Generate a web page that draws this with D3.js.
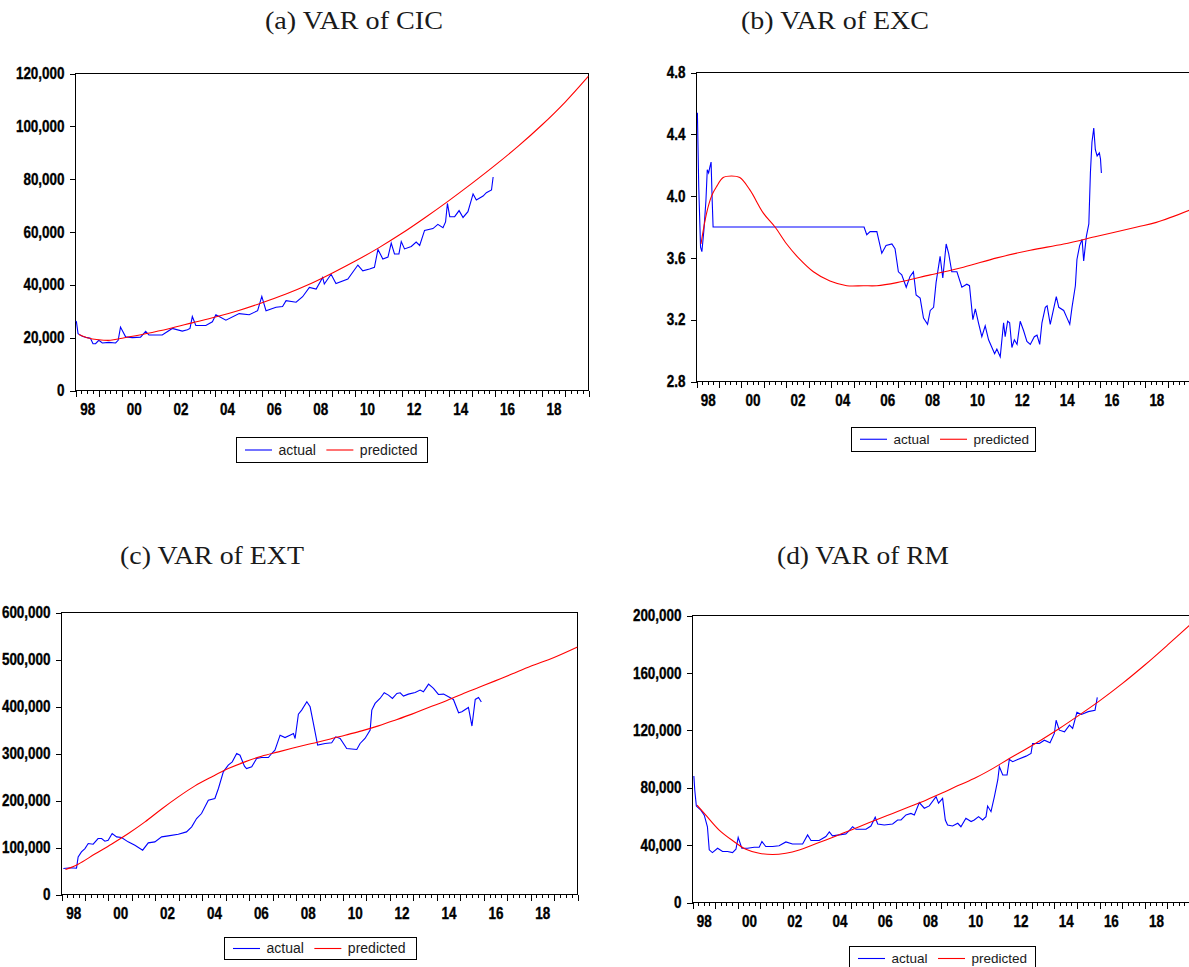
<!DOCTYPE html>
<html>
<head>
<meta charset="utf-8">
<script src="https://cdn.jsdelivr.net/npm/d3@7"></script>
<style>
  body { margin: 0; background: #fff; }
  svg { display: block; }
  .axis text {
    font-family: "Liberation Sans", Arial, sans-serif;
    font-weight: bold;
    font-size: 16px;
    fill: #000;
    stroke: #000;
    stroke-width: 0.35px;
  }
  .axis line { shape-rendering: crispEdges; }
  .title { font-family: "Liberation Serif", "Times New Roman", serif; font-size: 25px; fill: #1a1a1a; }
  .legend text { font-family: "Liberation Sans", Arial, sans-serif; fill: #1a1a1a; }
</style>
</head>
<body>
<svg id="chart" width="1189" height="967"></svg>
<script>
// ---- data (decimal year, value) ----
var titles = ["(a) VAR of CIC", "(b) VAR of EXC", "(c) VAR of EXT", "(d) VAR of RM"];
var legendLabels = ["actual", "predicted"];
var yearLabels = [1998, 2000, 2002, 2004, 2006, 2008, 2010, 2012, 2014, 2016, 2018];

var cicTicks = [0, 20000, 40000, 60000, 80000, 100000, 120000];
var excTicks = [2.8, 3.2, 3.6, 4.0, 4.4, 4.8];
var extTicks = [0, 100000, 200000, 300000, 400000, 500000, 600000];
var rmTicks = [0, 40000, 80000, 120000, 160000, 200000];

var cicActual = [
  [1998.00,26300],[1998.04,26000],[1998.11,21500],[1998.29,20500],[1998.50,20000],[1998.64,19800],
  [1998.75,17700],[1998.86,17700],[1999.00,19000],[1999.15,18000],[1999.43,18200],[1999.72,18000],
  [1999.83,19000],[1999.93,24000],[2000.15,20300],[2000.44,20000],[2000.79,20200],[2001.01,22400],
  [2001.15,21000],[2001.72,21000],[2002.15,23500],[2002.58,22500],[2002.80,23000],[2002.91,23500],
  [2003.01,28000],[2003.16,24600],[2003.59,24600],[2003.87,26000],[2004.02,28700],[2004.45,26600],
  [2005.02,29100],[2005.45,28700],[2005.81,30200],[2005.99,35600],[2006.17,30200],[2006.60,31500],
  [2006.88,31800],[2007.03,34000],[2007.46,33400],[2007.74,35500],[2008.03,39000],[2008.32,38400],
  [2008.60,42800],[2008.67,40300],[2008.96,44000],[2009.17,40500],[2009.68,42200],[2010.11,47500],
  [2010.32,45300],[2010.61,46000],[2010.82,46600],[2010.97,53400],[2011.18,49800],[2011.40,50500],
  [2011.54,55800],[2011.68,51700],[2011.87,51700],[2011.97,56400],[2012.11,53600],[2012.40,54500],
  [2012.61,56200],[2012.76,54900],[2012.97,60600],[2013.33,61300],[2013.54,62900],[2013.76,61600],
  [2013.87,63800],[2013.95,70800],[2014.05,65800],[2014.26,65800],[2014.45,68100],[2014.62,65500],
  [2014.83,67700],[2015.05,74400],[2015.19,72100],[2015.48,73600],[2015.62,74900],[2015.84,75900],
  [2015.91,80800]
];
var cicPredicted = [
  [1998.15,21200],[1998.50,20000],[1999.00,19200],[1999.50,19000],[2000.00,19800],[2001.00,21500],
  [2002.00,23400],[2003.00,25600],[2004.00,27800],[2005.00,30300],[2006.00,33200],[2007.00,36400],
  [2008.00,40100],[2009.00,44400],[2010.00,49000],[2011.00,54000],[2012.00,59500],[2013.00,65500],
  [2014.00,71800],[2015.00,78400],[2016.00,85300],[2017.00,92600],[2018.00,100500],[2019.00,109200],
  [2020.00,119000]
];

var excActual = [
  [1998.04,4.54],[1998.10,4.06],[1998.18,3.67],[1998.24,3.64],[1998.33,3.78],[1998.42,3.97],
  [1998.48,4.17],[1998.54,4.15],[1998.60,4.19],[1998.65,4.22],[1998.70,3.97],[1998.74,3.80],
  [2005.47,3.80],[2005.59,3.75],[2005.74,3.77],[2006.04,3.77],[2006.26,3.63],[2006.45,3.68],
  [2006.71,3.69],[2006.85,3.66],[2007.00,3.51],[2007.15,3.49],[2007.35,3.41],[2007.52,3.48],
  [2007.67,3.51],[2007.79,3.36],[2007.97,3.34],[2008.12,3.21],[2008.30,3.17],[2008.42,3.26],
  [2008.57,3.28],[2008.68,3.44],[2008.86,3.61],[2008.98,3.47],[2009.13,3.69],[2009.24,3.63],
  [2009.38,3.51],[2009.61,3.51],[2009.83,3.41],[2010.05,3.43],[2010.17,3.42],[2010.32,3.20],
  [2010.43,3.27],[2010.57,3.18],[2010.72,3.09],[2010.87,3.16],[2011.02,3.07],[2011.17,3.02],
  [2011.29,2.98],[2011.39,3.01],[2011.54,2.96],[2011.69,3.18],[2011.76,3.09],[2011.87,3.19],
  [2011.96,3.18],[2012.06,3.02],[2012.17,3.07],[2012.29,3.04],[2012.43,3.19],[2012.58,3.13],
  [2012.73,3.06],[2012.88,3.04],[2013.06,3.09],[2013.18,3.10],[2013.30,3.04],[2013.40,3.18],
  [2013.55,3.28],[2013.63,3.29],[2013.77,3.17],[2013.92,3.27],[2014.04,3.35],[2014.15,3.28],
  [2014.37,3.26],[2014.52,3.21],[2014.64,3.17],[2014.74,3.28],[2014.89,3.42],[2014.96,3.59],
  [2015.08,3.68],[2015.19,3.72],[2015.26,3.58],[2015.38,3.74],[2015.49,3.82],[2015.56,4.15],
  [2015.63,4.35],[2015.71,4.44],[2015.78,4.30],[2015.86,4.26],[2015.96,4.28],[2016.01,4.24],
  [2016.05,4.15]
];
var excPredicted = [
  [1998.20,3.69],[1998.45,3.89],[1998.67,4.00],[1998.89,4.06],[1999.19,4.12],[1999.56,4.13],
  [1999.93,4.12],[2000.38,4.04],[2000.98,3.89],[2001.50,3.80],[2002.02,3.69],[2002.61,3.59],
  [2003.21,3.51],[2003.95,3.45],[2004.70,3.42],[2005.44,3.42],[2006.04,3.42],[2006.93,3.44],
  [2008.42,3.49],[2009.90,3.54],[2011.39,3.60],[2012.88,3.65],[2014.37,3.69],[2015.86,3.74],
  [2017.64,3.80],[2018.50,3.83],[2020.00,3.91]
];

var extActual = [
  [1998.08,55300],[1998.40,57000],[1998.64,56000],[1998.71,80000],[1998.85,90700],[1999.00,97700],
  [1999.14,108400],[1999.35,107000],[1999.56,119000],[1999.71,119000],[1999.85,113400],[1999.99,115500],
  [2000.16,129700],[2000.35,122600],[2000.56,121200],[2000.84,112000],[2001.13,104900],[2001.46,94300],
  [2001.70,109900],[2001.98,112000],[2002.27,122600],[2002.55,124700],[2002.98,128200],[2003.33,133200],
  [2003.55,143900],[2003.76,161600],[2003.97,172300],[2004.26,200700],[2004.54,204200],[2004.69,225500],
  [2004.90,261000],[2005.11,275100],[2005.28,282200],[2005.47,300000],[2005.61,296400],[2005.80,273000],
  [2005.89,268000],[2006.11,271600],[2006.32,289400],[2006.53,291500],[2006.82,291500],[2006.96,300000],
  [2007.10,307100],[2007.32,339000],[2007.53,334000],[2007.74,339000],[2007.89,342600],[2007.96,332000],
  [2008.10,383800],[2008.24,392300],[2008.46,410000],[2008.60,399400],[2008.74,363900],[2008.92,317800],
  [2009.24,321300],[2009.52,322800],[2009.69,335500],[2009.88,332000],[2010.16,310700],[2010.59,308600],
  [2010.73,321300],[2010.94,332000],[2011.16,349700],[2011.23,392300],[2011.37,406500],[2011.58,417100],
  [2011.76,429200],[2011.94,424200],[2012.11,417100],[2012.30,427800],[2012.44,429200],[2012.58,422100],
  [2012.79,426300],[2013.08,429900],[2013.29,434900],[2013.43,431400],[2013.53,438500],[2013.65,447700],
  [2013.86,438500],[2014.07,425600],[2014.29,426300],[2014.50,420700],[2014.71,415000],[2014.93,386700],
  [2015.07,388800],[2015.35,398000],[2015.50,358400],[2015.64,415000],[2015.78,419300],[2015.90,409400]
];
var extPredicted = [
  [1998.17,53000],[1998.71,64500],[1999.42,86000],[2000.13,107000],[2000.85,129700],[2001.56,154500],
  [2002.27,182000],[2002.98,207700],[2003.69,231100],[2004.40,250200],[2005.11,267900],[2005.82,282200],
  [2006.53,294200],[2007.25,303500],[2007.96,312700],[2008.67,321300],[2009.38,329700],[2010.09,339000],
  [2010.80,348200],[2011.51,358800],[2012.22,370900],[2012.94,383800],[2013.65,398000],[2014.36,411300],
  [2015.07,426300],[2015.78,440400],[2016.49,454500],[2017.20,469000],[2018.00,485500],[2019.00,504500],
  [2020.00,526800]
];

var rmActual = [
  [1998.06,88100],[1998.10,78400],[1998.17,67200],[1998.37,64400],[1998.52,60900],[1998.66,52800],
  [1998.74,36700],[1998.88,34800],[1999.11,37800],[1999.33,35500],[1999.55,35500],[1999.77,34800],
  [1999.92,37100],[2000.02,45400],[2000.18,37800],[2000.43,37800],[2000.73,38500],[2000.95,38500],
  [2001.07,42500],[2001.24,39000],[2001.54,39000],[2001.83,39500],[2002.13,42200],[2002.42,40800],
  [2002.87,40800],[2003.09,47100],[2003.24,43200],[2003.60,43200],[2003.90,46000],[2004.05,49200],
  [2004.19,46400],[2004.49,47100],[2004.78,47800],[2004.93,50100],[2005.08,52800],[2005.23,51000],
  [2005.67,51000],[2005.89,53300],[2006.08,59400],[2006.19,54700],[2006.48,54000],[2006.85,54700],
  [2007.07,57500],[2007.22,57500],[2007.44,61000],[2007.66,62100],[2007.81,61000],[2008.03,69600],
  [2008.25,65700],[2008.47,67300],[2008.77,73800],[2008.88,69200],[2009.06,72600],[2009.18,57500],
  [2009.28,54000],[2009.50,53300],[2009.73,55200],[2009.87,52800],[2010.09,58700],[2010.32,56400],
  [2010.46,57500],[2010.65,59800],[2010.83,57500],[2010.98,59800],[2011.05,67200],[2011.20,63300],
  [2011.35,73800],[2011.50,85400],[2011.57,94600],[2011.72,88800],[2011.91,88800],[2012.01,99700],
  [2012.16,98100],[2012.38,99700],[2012.75,102000],[2012.97,103900],[2013.04,110800],[2013.34,110800],
  [2013.56,113100],[2013.81,111300],[2014.00,117800],[2014.08,127000],[2014.22,120100],[2014.45,118900],
  [2014.67,123600],[2014.81,121300],[2015.00,132500],[2015.20,131000],[2015.50,133000],[2015.80,134000],
  [2015.90,143000]
];
var rmPredicted = [
  [1998.20,67900],[1998.59,60900],[1999.18,50500],[1999.77,43200],[2000.36,37100],[2000.95,34300],
  [2001.54,33400],[2002.13,34300],[2002.72,36600],[2003.31,40100],[2003.90,43600],[2004.64,48200],
  [2005.37,52800],[2006.11,57500],[2006.85,62100],[2007.59,66700],[2008.32,71300],[2009.06,76400],
  [2009.80,81800],[2010.54,87100],[2011.27,93300],[2012.01,100300],[2012.75,106900],[2013.49,113900],
  [2014.22,121200],[2015.00,129500],[2016.00,140500],[2017.00,152500],[2018.00,165500],[2019.00,179300],
  [2020.00,193500]
];

// ---- layout ----
var panels = [
  { id: "a", title: titles[0], tx: 265, ty: 28.5, tw: 178,
    actual: cicActual, predicted: cicPredicted, ticks: cicTicks, fmt: d3.format(","),
    l: 75.5, r: 588.5, t: 73.5, b: 390.5,
    legend: { x: 236.5, y: 437.5, w: 191, h: 25, fs: 14 } },
  { id: "b", title: titles[1], tx: 741, ty: 28.5, tw: 188,
    actual: excActual, predicted: excPredicted, ticks: excTicks, fmt: d3.format(".1f"),
    l: 696.5, r: 1190, t: 72.5, b: 381.5,
    legend: { x: 851.5, y: 427.5, w: 184, h: 23.5, fs: 13.5 } },
  { id: "c", title: titles[2], tx: 120, ty: 564, tw: 184,
    actual: extActual, predicted: extPredicted, ticks: extTicks, fmt: d3.format(","),
    l: 61.5, r: 577.5, t: 612.5, b: 894.5,
    legend: { x: 224.5, y: 937.5, w: 192, h: 22, fs: 14 } },
  { id: "d", title: titles[3], tx: 777, ty: 564, tw: 172,
    actual: rmActual, predicted: rmPredicted, ticks: rmTicks, fmt: d3.format(","),
    l: 692.5, r: 1190, t: 615.5, b: 902.5,
    legend: { x: 849.5, y: 946.5, w: 186, h: 24, fs: 13.5 } }
];

var LABEL_SQUEEZE = 0.84; // the original uses a narrow bold face

var svg = d3.select("#chart");
var quarters = d3.range(1998, 2020.001, 0.25);
var years = d3.range(1998, 2021, 1);

function squeeze(a) {
  a.selectAll("text").each(function () {
    var w = this.getComputedTextLength();
    d3.select(this)
      .attr("textLength", w * LABEL_SQUEEZE)
      .attr("lengthAdjust", "spacingAndGlyphs");
  });
}

panels.forEach(function (p) {
  var g = svg.append("g").attr("class", "panel-" + p.id);

  var x = d3.scaleLinear().domain([1998, 2020]).range([p.l, p.r]);
  var y = d3.scaleLinear().domain([p.ticks[0], p.ticks[p.ticks.length - 1]]).range([p.b, p.t]);

  g.append("text")
    .attr("class", "title")
    .attr("x", p.tx)
    .attr("y", p.ty)
    .attr("textLength", p.tw)
    .attr("lengthAdjust", "spacingAndGlyphs")
    .text(p.title);

  svg.append("clipPath").attr("id", "clip-" + p.id)
    .append("rect")
    .attr("x", p.l).attr("y", p.t)
    .attr("width", p.r - p.l).attr("height", p.b - p.t);

  // y axis
  g.append("g")
    .attr("class", "axis")
    .attr("transform", "translate(" + p.l + ",0)")
    .call(d3.axisLeft(y).tickValues(p.ticks).tickFormat(p.fmt).tickSize(6).tickPadding(5).tickSizeOuter(0))
    .call(function (a) { a.select(".domain").remove(); })
    .call(squeeze);

  // x axis: quarterly minor ticks, yearly ticks, labels at mid-year
  g.append("g")
    .attr("class", "axis")
    .attr("transform", "translate(0," + p.b + ")")
    .call(d3.axisBottom(x).tickValues(quarters).tickFormat("").tickSize(3).tickSizeOuter(0))
    .call(function (a) { a.select(".domain").remove(); });
  g.append("g")
    .attr("class", "axis")
    .attr("transform", "translate(0," + p.b + ")")
    .call(d3.axisBottom(x).tickValues(years).tickFormat("").tickSize(6).tickSizeOuter(0))
    .call(function (a) { a.select(".domain").remove(); });
  g.append("g")
    .attr("class", "axis")
    .attr("transform", "translate(0," + p.b + ")")
    .call(d3.axisBottom(x)
      .tickValues(yearLabels.map(function (v) { return v + 0.5; }))
      .tickFormat(function (v) { return d3.format("02")(Math.floor(v) % 100); })
      .tickSize(0).tickPadding(13.5).tickSizeOuter(0))
    .call(function (a) { a.select(".domain").remove(); })
    .call(squeeze);

  // frame
  g.append("rect")
    .attr("x", p.l).attr("y", p.t)
    .attr("width", p.r - p.l).attr("height", p.b - p.t)
    .attr("fill", "none")
    .attr("stroke", "#000")
    .attr("shape-rendering", "crispEdges");

  var line = d3.line()
    .x(function (d) { return x(d[0]); })
    .y(function (d) { return y(d[1]); });

  g.append("path")
    .datum(p.actual)
    .attr("clip-path", "url(#clip-" + p.id + ")")
    .attr("fill", "none")
    .attr("stroke", "#0000ff")
    .attr("stroke-width", 1.1)
    .attr("d", line);

  g.append("path")
    .datum(p.predicted)
    .attr("clip-path", "url(#clip-" + p.id + ")")
    .attr("fill", "none")
    .attr("stroke", "#ff0000")
    .attr("stroke-width", 1.1)
    .attr("d", line.curve(d3.curveCatmullRom.alpha(0.5)));

  // legend
  var lg = g.append("g").attr("class", "legend");
  var L = p.legend;
  lg.append("rect")
    .attr("x", L.x).attr("y", L.y)
    .attr("width", L.w).attr("height", L.h)
    .attr("fill", "#fff").attr("stroke", "#000")
    .attr("shape-rendering", "crispEdges");
  var cy = L.y + L.h / 2;
  var cx = L.x + 8.5;
  [["#0000ff", legendLabels[0]], ["#ff0000", legendLabels[1]]].forEach(function (it) {
    lg.append("line")
      .attr("x1", cx).attr("x2", cx + 27)
      .attr("y1", cy).attr("y2", cy)
      .attr("stroke", it[0]).attr("stroke-width", 1.1);
    var t = lg.append("text")
      .attr("x", cx + 33.5)
      .attr("y", cy)
      .attr("dy", "0.35em")
      .style("font-size", L.fs + "px")
      .text(it[1]);
    cx = cx + 33.5 + t.node().getComputedTextLength() + 10.5;
  });
});
</script>
</body>
</html>
